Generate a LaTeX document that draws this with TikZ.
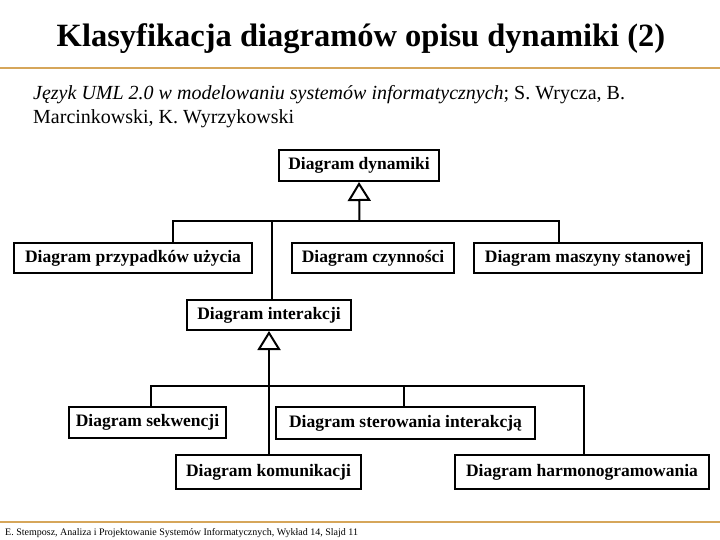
\documentclass[tikz,border=0pt]{standalone}
\usepackage{fontspec}
\setmainfont{Liberation Serif}
\usetikzlibrary{arrows.meta}
\definecolor{rulecol}{RGB}{214,166,90}
\begin{document}
\begin{tikzpicture}[x=1pt,y=-1pt,
  box/.style={draw, line width=2pt, inner sep=0pt, anchor=center,
    font=\fontsize{17.5}{20}\selectfont\bfseries},
  conn/.style={line width=2pt},
  gen/.style={line width=2pt, -{Triangle[open, length=19pt, width=23pt]}},
  hrule/.style={draw=rulecol, line width=1.2pt},
]
\useasboundingbox (0,0) rectangle (720,540);
% title and header
\node[anchor=base, font=\fontsize{32.5}{38}\selectfont\bfseries, inner sep=0pt] (title) at (361,47) {Klasyfikacja diagramów opisu dynamiki (2)};
\coordinate (r1a) at (0,68);
\coordinate (r1b) at (720,68);
\draw[hrule] (r1a) -- (r1b);
\node[anchor=base west, inner sep=0pt, font=\fontsize{20}{24}\selectfont] (sub1) at (33,100) {\textit{Język UML 2.0 w modelowaniu systemów informatycznych}; S. Wrycza, B.};
\node[anchor=base west, inner sep=0pt, font=\fontsize{20}{24}\selectfont] (sub2) at (33,124) {Marcinkowski, K. Wyrzykowski};
% boxes
\node[box, minimum width=160pt, minimum height=31pt] (dyn) at (359,165.5) {Diagram dynamiki};
\node[box, minimum width=238pt, minimum height=30pt] (prz) at (133,258) {Diagram przypadków użycia};
\node[box, minimum width=162pt, minimum height=30pt] (czy) at (373,258) {Diagram czynności};
\node[box, minimum width=228pt, minimum height=30pt] (masz) at (588,258) {Diagram maszyny stanowej};
\node[box, minimum width=164pt, minimum height=30pt] (int) at (269,315) {Diagram interakcji};
\node[box, minimum width=157pt, minimum height=31pt] (sek) at (147.5,422.5) {Diagram sekwencji};
\node[box, minimum width=259pt, minimum height=32pt] (ster) at (405.5,423) {Diagram sterowania interakcją};
\node[box, minimum width=185pt, minimum height=34pt] (kom) at (268.5,472) {Diagram komunikacji};
\node[box, minimum width=254pt, minimum height=34pt] (harm) at (582,472) {Diagram harmonogramowania};
% first hierarchy
\coordinate (h1) at (359.5,221);
\coordinate (a1) at (173,221);
\coordinate (a2) at (272,221);
\coordinate (a3) at (559,221);
\draw[gen] (h1) -- (dyn.south);
\draw[conn] (a1 |- prz.north) -- (a1) -- (a3) -- (a3 |- masz.north);
\draw[conn] (a2) -- (a2 |- int.north);
% second hierarchy
\coordinate (b1) at (151,386);
\coordinate (b3) at (404,386);
\coordinate (b4) at (584,386);
\draw[gen] (kom.north -| int.south) -- (int.south);
\draw[conn] (b1 |- sek.north) -- (b1) -- (b4) -- (b4 |- harm.north);
\draw[conn] (b3) -- (b3 |- ster.north);
% footer
\coordinate (r2a) at (0,522);
\coordinate (r2b) at (720,522);
\draw[hrule] (r2a) -- (r2b);
\node[anchor=base west, inner sep=0pt, font=\fontsize{10}{12}\selectfont] (foot) at (5,535) {E. Stemposz, Analiza i Projektowanie Systemów Informatycznych, Wykład 14, Slajd 11};
\end{tikzpicture}
\end{document}
